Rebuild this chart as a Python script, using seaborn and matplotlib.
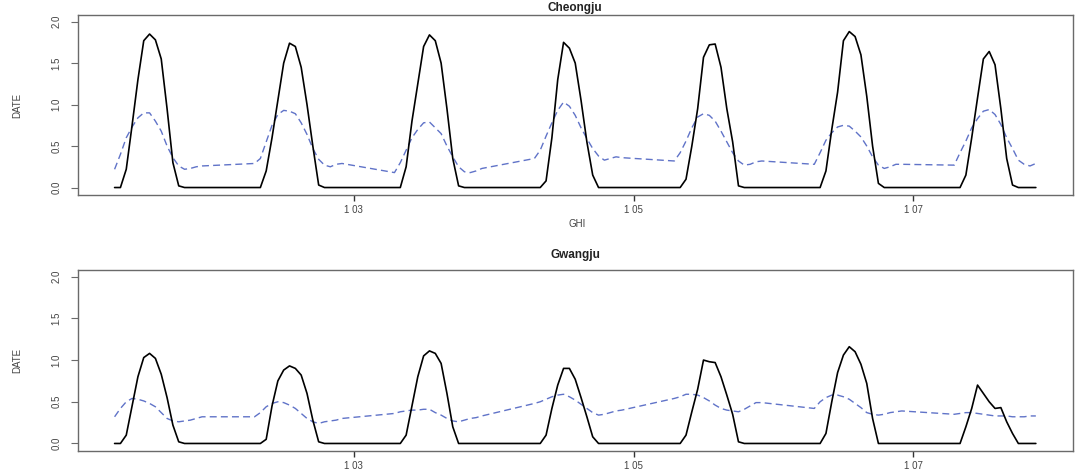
import matplotlib
matplotlib.use("Agg")
import matplotlib.pyplot as plt
import pandas as pd
import seaborn as sns

# ---------------- data ----------------
HOURS = list(range(7, 23))          # hourly samples kept per day (night dropped)
DAYS = [1, 2, 3, 4, 5, 6, 7]

# Cheongju – solid black series
CJ_OBS = [
    [0, 0, 0.22, 0.75, 1.30, 1.77, 1.85, 1.78, 1.55, 0.95, 0.30, 0.02, 0, 0, 0, 0],
    [0, 0, 0.20, 0.60, 1.05, 1.50, 1.74, 1.70, 1.45, 1.00, 0.50, 0.03, 0, 0, 0, 0],
    [0, 0, 0.25, 0.80, 1.25, 1.70, 1.84, 1.77, 1.50, 0.95, 0.35, 0.02, 0, 0, 0, 0],
    [0, 0, 0.08, 0.60, 1.30, 1.75, 1.68, 1.50, 1.05, 0.55, 0.15, 0, 0, 0, 0, 0],
    [0, 0, 0.10, 0.50, 0.95, 1.57, 1.72, 1.73, 1.45, 0.95, 0.55, 0.02, 0, 0, 0, 0],
    [0, 0, 0.20, 0.70, 1.15, 1.77, 1.88, 1.82, 1.60, 1.10, 0.50, 0.05, 0, 0, 0, 0],
    [0, 0, 0.15, 0.60, 1.08, 1.55, 1.64, 1.48, 0.95, 0.35, 0.03, 0, 0, 0, 0],
]
# Cheongju – dashed blue series
CJ_MOD = [
    [0.22, 0.40, 0.60, 0.73, 0.84, 0.90, 0.90, 0.80, 0.68, 0.50, 0.36, 0.26, 0.22, 0.23, 0.25, 0.26],
    [0.29, 0.35, 0.55, 0.75, 0.88, 0.93, 0.92, 0.89, 0.78, 0.64, 0.47, 0.34, 0.27, 0.25, 0.28, 0.29],
    [0.18, 0.30, 0.45, 0.60, 0.70, 0.78, 0.79, 0.72, 0.65, 0.50, 0.37, 0.25, 0.19, 0.18, 0.20, 0.23],
    [0.35, 0.45, 0.62, 0.78, 0.93, 1.03, 0.98, 0.87, 0.72, 0.59, 0.47, 0.38, 0.33, 0.35, 0.37, 0.36],
    [0.32, 0.42, 0.56, 0.72, 0.85, 0.89, 0.87, 0.80, 0.68, 0.55, 0.42, 0.32, 0.27, 0.28, 0.31, 0.32],
    [0.28, 0.42, 0.57, 0.66, 0.73, 0.75, 0.74, 0.68, 0.61, 0.50, 0.37, 0.27, 0.23, 0.25, 0.28, 0.28],
    [0.27, 0.42, 0.56, 0.72, 0.83, 0.92, 0.94, 0.88, 0.76, 0.60, 0.47, 0.33, 0.28, 0.26, 0.29],
]
# Gwangju – solid black series
GJ_OBS = [
    [0, 0, 0.10, 0.45, 0.80, 1.03, 1.08, 1.02, 0.83, 0.55, 0.22, 0.02, 0, 0, 0, 0],
    [0, 0, 0.05, 0.45, 0.75, 0.88, 0.93, 0.90, 0.82, 0.60, 0.28, 0.02, 0, 0, 0, 0],
    [0, 0, 0.10, 0.45, 0.80, 1.05, 1.11, 1.08, 0.96, 0.60, 0.20, 0, 0, 0, 0, 0],
    [0, 0, 0.10, 0.42, 0.70, 0.90, 0.90, 0.77, 0.55, 0.32, 0.08, 0, 0, 0, 0, 0],
    [0, 0, 0.10, 0.38, 0.65, 1.00, 0.98, 0.97, 0.80, 0.58, 0.35, 0.02, 0, 0, 0, 0],
    [0, 0, 0.12, 0.50, 0.85, 1.06, 1.16, 1.10, 0.95, 0.72, 0.30, 0, 0, 0, 0, 0],
    [0, 0, 0.20, 0.42, 0.70, 0.60, 0.50, 0.42, 0.43, 0.26, 0.12, 0, 0, 0, 0],
]
# Gwangju – dashed blue series
GJ_MOD = [
    [0.32, 0.42, 0.50, 0.54, 0.53, 0.51, 0.48, 0.44, 0.37, 0.30, 0.27, 0.26, 0.27, 0.28, 0.30, 0.32],
    [0.32, 0.37, 0.44, 0.48, 0.50, 0.49, 0.46, 0.42, 0.36, 0.30, 0.26, 0.24, 0.26, 0.27, 0.28, 0.30],
    [0.36, 0.38, 0.39, 0.40, 0.40, 0.41, 0.41, 0.37, 0.34, 0.30, 0.27, 0.26, 0.28, 0.30, 0.31, 0.33],
    [0.48, 0.50, 0.53, 0.56, 0.58, 0.59, 0.56, 0.52, 0.47, 0.42, 0.37, 0.34, 0.35, 0.37, 0.39, 0.40],
    [0.54, 0.56, 0.59, 0.59, 0.58, 0.55, 0.51, 0.46, 0.42, 0.40, 0.39, 0.38, 0.41, 0.45, 0.49, 0.49],
    [0.42, 0.50, 0.55, 0.58, 0.58, 0.56, 0.53, 0.48, 0.43, 0.37, 0.35, 0.34, 0.35, 0.37, 0.38, 0.39],
    [0.35, 0.36, 0.37, 0.37, 0.36, 0.35, 0.34, 0.33, 0.33, 0.33, 0.32, 0.32, 0.32, 0.33, 0.33],
]

TITLES = ["Cheongju", "Gwangju"]
XTICKS = [3, 5, 7]
XTICK_LABELS = ["1 03", "1 05", "1 07"]
YTICKS = [0.0, 0.5, 1.0, 1.5, 2.0]
YTICK_LABELS = ["0.0", "0.5", "1.0", "1.5", "2.0"]
Y_LABEL = "DATE"
X_LABEL = "GHI"


def build_frame(obs, mod):
    rows = []
    for d, o_day, m_day in zip(DAYS, obs, mod):
        for h, o, m in zip(HOURS, o_day, m_day):
            t = d + h / 24.0
            rows.append((t, o, "obs"))
            rows.append((t, m, "model"))
    return pd.DataFrame(rows, columns=["time", "value", "series"])


# ---------------- style ----------------
sns.set_style("white")
plt.rcParams["font.family"] = ["Liberation Sans", "DejaVu Sans"]

BLUE = "#6073c8"
FRAME = "#6a6a6a"
TXT = "#444444"

fig = plt.figure(figsize=(10.83, 4.71), dpi=100)
axes = [
    fig.add_axes([0.0720, 0.5860, 0.9187, 0.3822]),
    fig.add_axes([0.0720, 0.0425, 0.9187, 0.3843]),
]

panels = [(CJ_OBS, CJ_MOD), (GJ_OBS, GJ_MOD)]
for ax, (obs, mod) in zip(axes, panels):
    df = build_frame(obs, mod)
    sns.lineplot(data=df[df.series == "model"], x="time", y="value", ax=ax,
                 color=BLUE, lw=1.0, linestyle=(0, (5, 3)),
                 estimator=None, sort=False, legend=False)
    sns.lineplot(data=df[df.series == "obs"], x="time", y="value", ax=ax,
                 color="black", lw=1.2, estimator=None, sort=False, legend=False)
    ax.set_xlim(1.03, 8.14)
    ax.set_ylim(-0.09, 2.08)
    ax.set_xticks(XTICKS)
    ax.set_xticklabels(XTICK_LABELS, fontsize=7, color=TXT)
    ax.set_yticks(YTICKS)
    ax.set_yticklabels(YTICK_LABELS, fontsize=7, color=TXT, rotation=90, va="center")
    ax.tick_params(axis="x", length=4, width=1, color="#333333", pad=3, direction="out", bottom=True)
    ax.tick_params(axis="y", length=5, width=0.8, color=FRAME, pad=7, direction="out", left=True)
    ax.set_xlabel("")
    ax.set_ylabel("")
    for s in ax.spines.values():
        s.set_color(FRAME)
        s.set_linewidth(1.0)
        s.set_visible(True)

# titles and axis labels
fig.text(0.531, 0.984, TITLES[0], ha="center", va="center", fontsize=8.5, fontweight="bold", color="#222222")
fig.text(0.531, 0.4586, TITLES[1], ha="center", va="center", fontsize=8.5, fontweight="bold", color="#222222")
fig.text(0.0157, 0.777, Y_LABEL, ha="center", va="center", rotation=90, fontsize=7, color=TXT)
fig.text(0.0157, 0.2357, Y_LABEL, ha="center", va="center", rotation=90, fontsize=7, color=TXT)
fig.text(0.533, 0.5244, X_LABEL, ha="center", va="center", fontsize=7, color=TXT)

fig.savefig("out.png", dpi=100, facecolor="white")
